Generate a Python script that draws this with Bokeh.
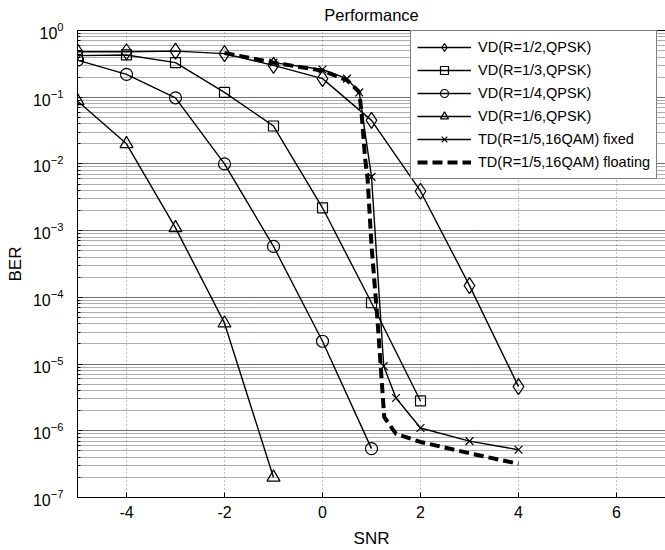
from bokeh.plotting import figure
from bokeh.models import Legend, LegendItem, FixedTicker, Range1d, LinearAxis
from bokeh.embed import file_html
from bokeh.resources import INLINE

# ---- data ----
snr_r12 = [-5, -4, -3, -2, -1, 0, 1, 2, 3, 4]
ber_r12 = [0.48, 0.48, 0.49, 0.45, 0.30, 0.19, 0.045, 0.0039, 1.5e-4, 4.6e-6]

snr_r13 = [-5, -4, -3, -2, -1, 0, 1, 2]
ber_r13 = [0.42, 0.43, 0.33, 0.118, 0.037, 0.0022, 8.3e-5, 2.8e-6]

snr_r14 = [-5, -4, -3, -2, -1, 0, 1]
ber_r14 = [0.36, 0.22, 0.098, 0.01, 5.8e-4, 2.2e-5, 5.4e-7]

snr_r16 = [-5, -4, -3, -2, -1]
ber_r16 = [0.088, 0.02, 1.1e-3, 4.1e-5, 2.0e-7]

snr_td_fixed = [-1, 0, 0.5, 0.75, 1.0, 1.25, 1.5, 2, 3, 4]
ber_td_fixed = [0.33, 0.26, 0.19, 0.118, 0.0064, 9.3e-6, 3.1e-6, 1.1e-6, 7e-7, 5.2e-7]

snr_td_float = [-2, -1, 0, 0.5, 0.75, 0.8, 0.87, 0.92, 1.0, 1.12, 1.21, 1.26, 1.5, 2, 3, 4]
ber_td_float = [0.46, 0.33, 0.25, 0.18, 0.12, 0.055, 0.012, 0.006, 6e-4, 4.8e-5,
                5.4e-6, 1.6e-6, 9e-7, 6.8e-7, 4.6e-7, 3.2e-7]

x_ticks = [-4, -2, 0, 2, 4, 6]
x_tick_labels = ["-4", "-2", "0", "2", "4", "6"]

labels = ["VD(R=1/2,QPSK)", "VD(R=1/3,QPSK)", "VD(R=1/4,QPSK)",
          "VD(R=1/6,QPSK)", "TD(R=1/5,16QAM) fixed", "TD(R=1/5,16QAM) floating"]

FONT = "Liberation Sans"

W, H = 665, 550
BL, BR, BT, BB = 77, 0, 32, 51
frame_w = W - BL - BR
px_per_unit = 49.0

p = figure(width=W, height=H, title="Performance",
           x_range=Range1d(-5, -5 + frame_w / px_per_unit), y_range=Range1d(1e-7, 1),
           y_axis_type="log", output_backend="svg", toolbar_location=None,
           min_border_left=BL, min_border_right=BR, min_border_top=0,
           min_border_bottom=BB)

p.background_fill_color = "white"
p.outline_line_color = None

p.title.align = "center"
p.title.text_font = FONT
p.title.text_font_size = "16.5px"
p.title.text_font_style = "normal"
p.title.text_color = "black"
p.title.vertical_align = "top"
p.title.standoff = 10

xax = p.below[0]
yax = p.left[0]

# top border line of the box, no labels
top_axis = LinearAxis(ticker=FixedTicker(ticks=[]), major_label_text_font_size="0px",
                      major_tick_in=0, major_tick_out=0, minor_tick_in=0,
                      minor_tick_out=0, major_label_standoff=0,
                      axis_line_color="black")
p.add_layout(top_axis, "above")

# axes
xax.ticker = FixedTicker(ticks=x_ticks, minor_ticks=[])
xax.major_label_overrides = {t: l for t, l in zip(x_ticks, x_tick_labels)}
xax.axis_label = "SNR"
yax.axis_label = "BER"
for ax in (xax, yax):
    ax.axis_label_text_font = FONT
    ax.axis_label_text_font_size = "17px"
    ax.axis_label_text_font_style = "normal"
    ax.axis_label_text_color = "black"
    ax.axis_label_text_line_height = 1.0
    ax.major_label_text_font = FONT
    ax.major_label_text_font_size = "16px"
    ax.major_label_text_color = "black"
    ax.major_label_text_line_height = 1.0
    ax.axis_line_color = "black"
    ax.major_tick_line_color = "black"
    ax.minor_tick_line_color = "black"
    ax.major_tick_out = 0
    ax.major_tick_in = 5
    ax.minor_tick_out = 0
    ax.minor_tick_in = 3

xax.major_label_standoff = 8
xax.axis_label_standoff = 8
yax.major_label_standoff = 14
yax.axis_label_standoff = 5

# grids
p.xgrid.grid_line_color = "#8a8a8a"
p.xgrid.grid_line_dash = "1 3"
p.ygrid.grid_line_color = "#5a5a5a"
p.ygrid.grid_line_dash = "1 1"
p.ygrid.minor_grid_line_color = "#5a5a5a"
p.ygrid.minor_grid_line_dash = "1 1"

LW = 1.4
items = []

def series(xs, ys, marker, size, label):
    r_line = p.line(xs, ys, line_color="black", line_width=LW)
    r_mark = p.scatter(xs, ys, marker=marker, size=size, fill_color=None,
                       line_color="black", line_width=1.2)
    items.append(LegendItem(label=label, renderers=[r_line, r_mark]))

series(snr_r12, ber_r12, "diamond", 16, labels[0])
series(snr_r13, ber_r13, "square", 10, labels[1])
series(snr_r14, ber_r14, "circle", 12, labels[2])
series(snr_r16, ber_r16, "triangle", 13, labels[3])
series(snr_td_fixed, ber_td_fixed, "x", 11, labels[4])

r_float = p.line(snr_td_float, ber_td_float, line_color="black", line_width=4,
                 line_dash="10 5")
items.append(LegendItem(label=labels[5], renderers=[r_float]))

LEG_PAD, LEG_ROW, LEG_SP = 6, 20, 3
leg_h = 2 * LEG_PAD + len(labels) * LEG_ROW + (len(labels) - 1) * LEG_SP
frame_h_est = H - BT - BB - 2
legend = Legend(items=items, location=(333, frame_h_est - leg_h), margin=0,
                padding=LEG_PAD, spacing=LEG_SP, glyph_width=54,
                glyph_height=LEG_ROW, label_height=LEG_ROW,
                label_standoff=7, border_line_color="black", border_line_width=1,
                background_fill_color="white", background_fill_alpha=1,
                label_text_font=FONT, label_text_font_size="14.5px",
                label_text_color="black")
p.add_layout(legend, "center")

open("out.html", "w").write(file_html(p, INLINE))
